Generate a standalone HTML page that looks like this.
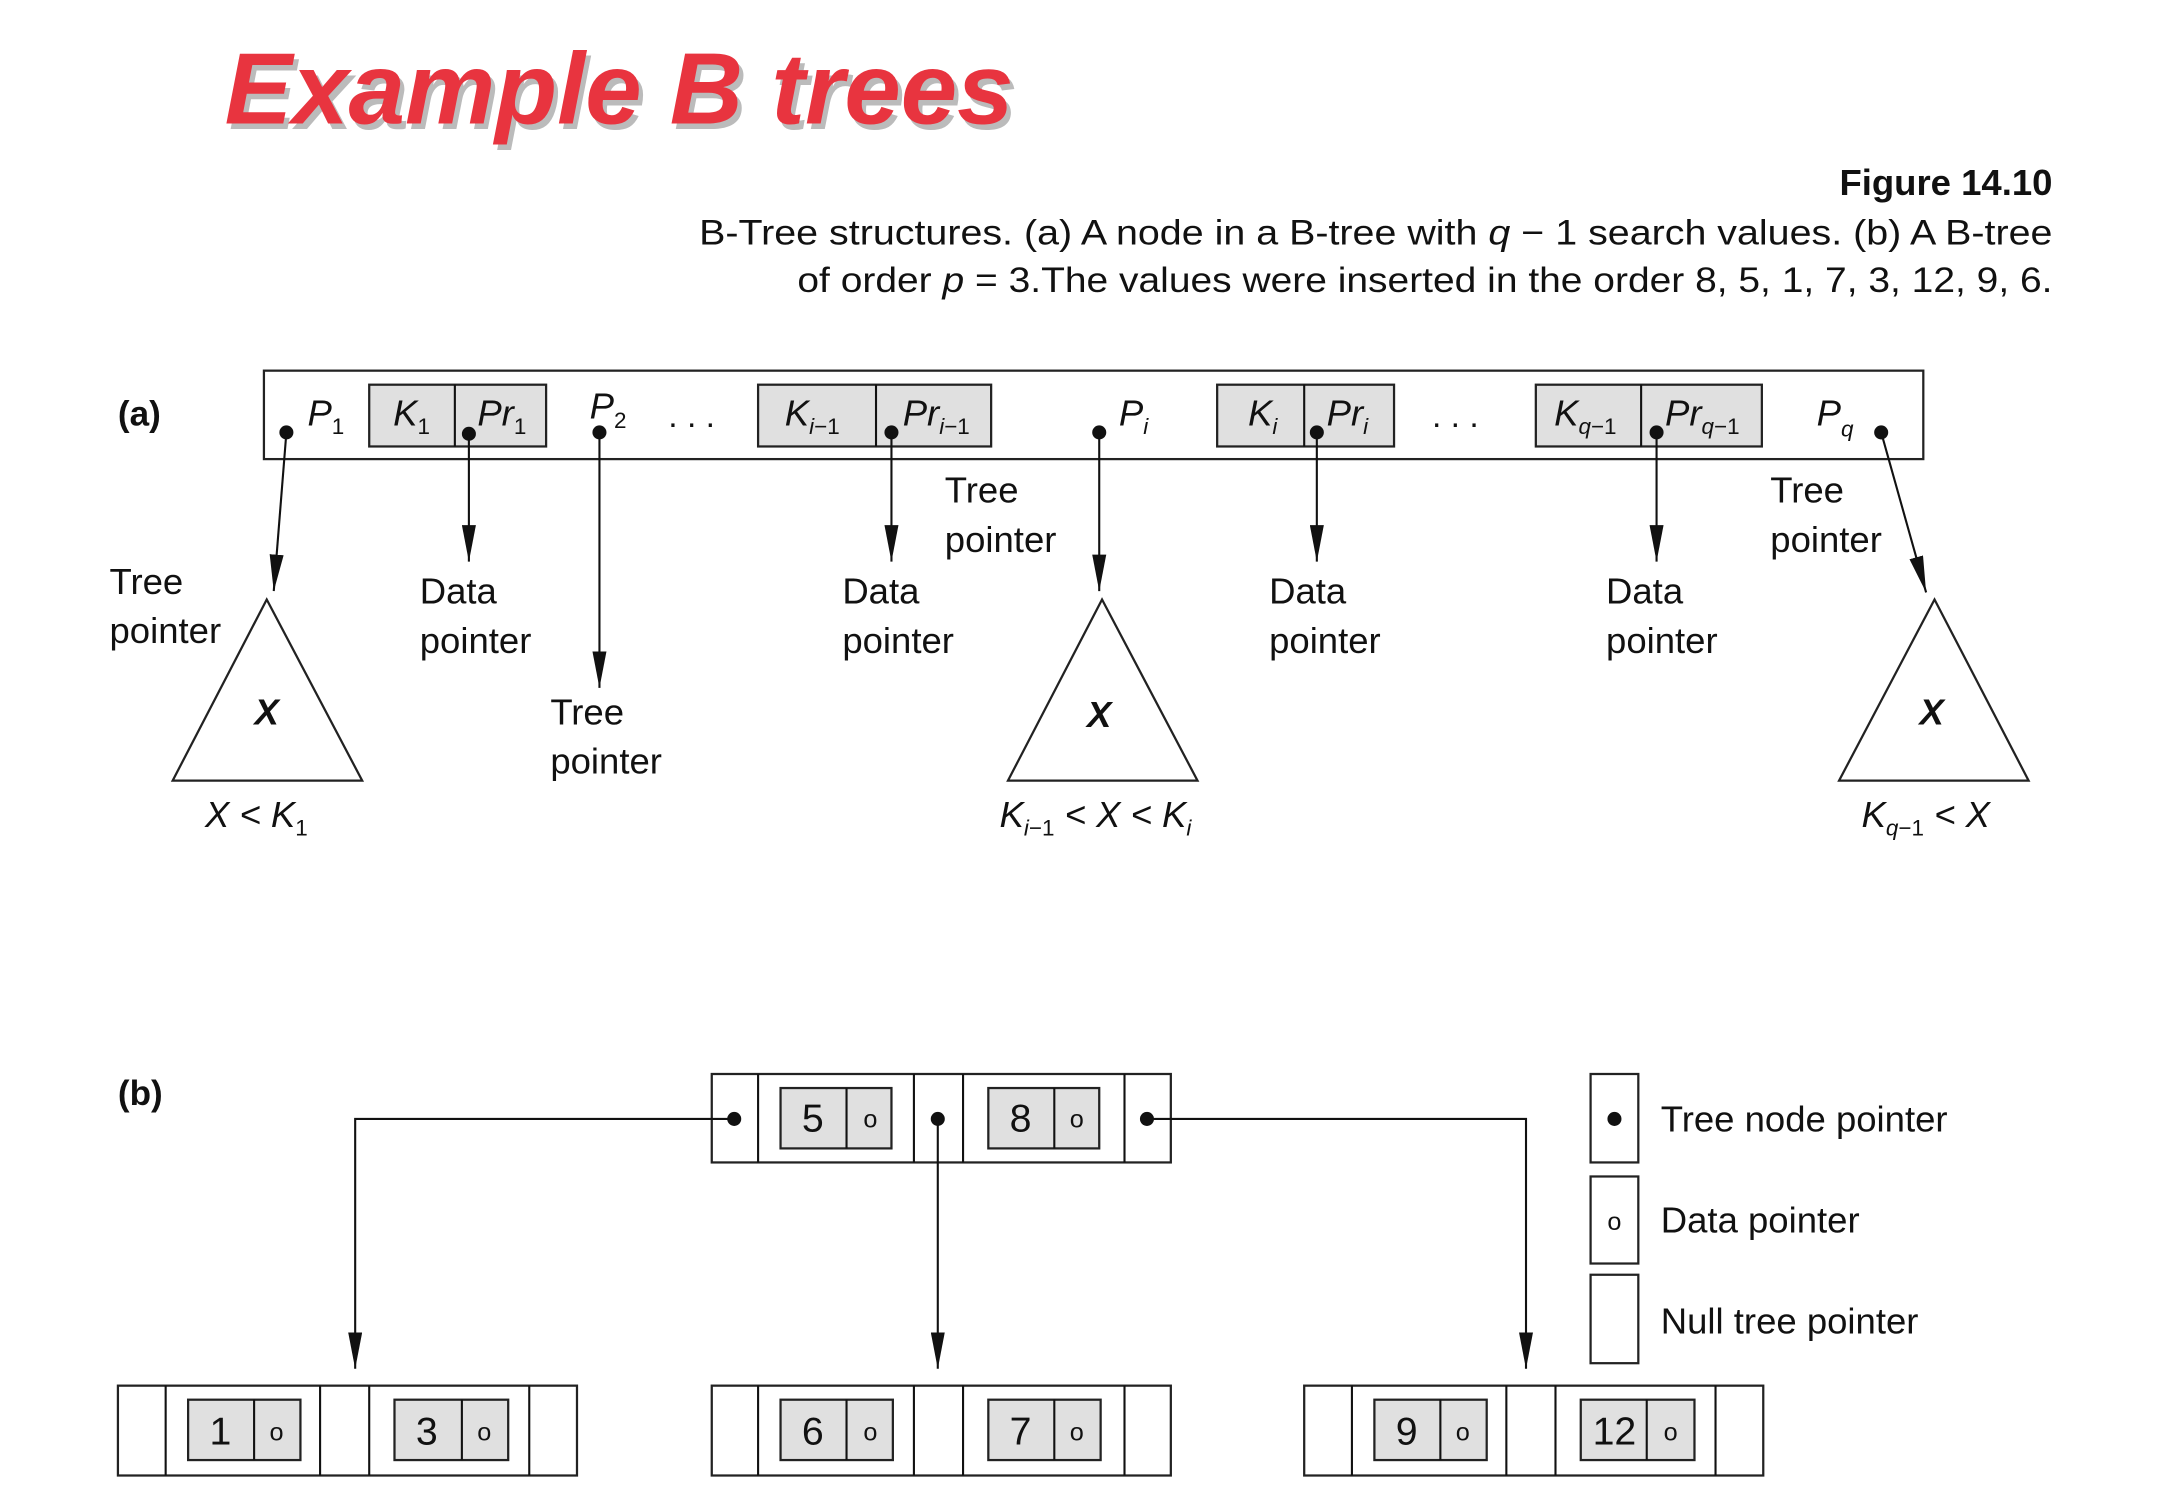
<!DOCTYPE html>
<html><head><meta charset="utf-8"><style>
html,body{margin:0;padding:0;background:#fff;}
svg{display:block;}
text{font-family:"Liberation Sans",sans-serif;fill:#111;}
.it{font-style:italic;}
</style></head><body>
<svg width="2176" height="1498" viewBox="0 0 1550 1067" xmlns="http://www.w3.org/2000/svg">
<defs>
<marker id="ah" markerWidth="26" markerHeight="10" refX="26" refY="5" orient="auto" markerUnits="userSpaceOnUse" viewBox="0 0 26 10">
<path d="M0,0 L26,5 L0,10 Z" fill="#111"/>
</marker>
</defs>
<style>
.ln{stroke:#111;stroke-width:1.5;fill:none;}
.bx{stroke:#222;stroke-width:1.6;fill:#fff;}
.gb{stroke:#222;stroke-width:1.6;fill:#e0e0e0;}
</style>
<!-- title -->
<text x="160" y="88" font-size="72" font-weight="bold" font-style="italic" style="fill:#bbb" textLength="562" lengthAdjust="spacingAndGlyphs" transform="translate(3,4)">Example B trees</text>
<text x="160" y="88" font-size="72" font-weight="bold" font-style="italic" style="fill:#e8343f" textLength="562" lengthAdjust="spacingAndGlyphs">Example B trees</text>
<text x="1462" y="139" font-size="26" font-weight="bold" text-anchor="end">Figure 14.10</text>
<text x="1462" y="174" font-size="25" text-anchor="end" textLength="964" lengthAdjust="spacingAndGlyphs">B-Tree structures. (a) A node in a B-tree with <tspan class="it">q</tspan> − 1 search values. (b) A B-tree</text>
<text x="1462" y="208" font-size="25" text-anchor="end" textLength="894" lengthAdjust="spacingAndGlyphs">of order <tspan class="it">p</tspan> = 3.The values were inserted in the order 8, 5, 1, 7, 3, 12, 9, 6.</text>

<!-- (a) -->
<text x="84" y="303" font-size="25" font-weight="bold">(a)</text>
<rect x="188" y="264" width="1182" height="63" class="bx"/>
<rect x="263" y="274" width="126" height="44" class="gb"/><line x1="324" y1="274" x2="324" y2="318" class="ln"/>
<rect x="540" y="274" width="166" height="44" class="gb"/><line x1="624" y1="274" x2="624" y2="318" class="ln"/>
<rect x="867" y="274" width="126" height="44" class="gb"/><line x1="929" y1="274" x2="929" y2="318" class="ln"/>
<rect x="1094" y="274" width="161" height="44" class="gb"/><line x1="1169" y1="274" x2="1169" y2="318" class="ln"/>
<g font-size="26" font-style="italic">
<text x="219" y="303">P<tspan font-size="16" dy="6" font-style="normal">1</tspan></text>
<text x="280" y="303">K<tspan font-size="16" dy="6" font-style="normal">1</tspan></text>
<text x="340" y="303">Pr<tspan font-size="16" dy="6" font-style="normal">1</tspan></text>
<text x="420" y="298">P<tspan font-size="16" dy="7" font-style="normal">2</tspan></text>
<text x="559" y="303">K<tspan font-size="16" dy="6">i</tspan><tspan font-size="16" font-style="normal">−1</tspan></text>
<text x="643" y="303">Pr<tspan font-size="16" dy="6">i</tspan><tspan font-size="16" font-style="normal">−1</tspan></text>
<text x="797" y="303">P<tspan font-size="16" dy="6">i</tspan></text>
<text x="889" y="303">K<tspan font-size="16" dy="6">i</tspan></text>
<text x="945" y="303">Pr<tspan font-size="16" dy="6">i</tspan></text>
<text x="1107" y="303">K<tspan font-size="16" dy="6">q</tspan><tspan font-size="16" font-style="normal">−1</tspan></text>
<text x="1186" y="303">Pr<tspan font-size="16" dy="6">q</tspan><tspan font-size="16" font-style="normal">−1</tspan></text>
<text x="1294" y="303">P<tspan font-size="16" dy="8">q</tspan></text>
</g>
<text x="476" y="304" font-size="24">. . .</text>
<text x="1020" y="304" font-size="24">. . .</text>
<g fill="#111">
<circle cx="204" cy="308" r="5"/><circle cx="334" cy="309" r="5"/><circle cx="427" cy="308" r="5"/>
<circle cx="635" cy="308" r="5"/><circle cx="783" cy="308" r="5"/><circle cx="938" cy="308" r="5"/>
<circle cx="1180" cy="308" r="5"/><circle cx="1340" cy="308" r="5"/>
</g>
<line x1="204" y1="308" x2="195" y2="421" class="ln" marker-end="url(#ah)"/>
<line x1="334" y1="309" x2="334" y2="400" class="ln" marker-end="url(#ah)"/>
<line x1="427" y1="308" x2="427" y2="490" class="ln" marker-end="url(#ah)"/>
<line x1="635" y1="308" x2="635" y2="400" class="ln" marker-end="url(#ah)"/>
<line x1="783" y1="308" x2="783" y2="421" class="ln" marker-end="url(#ah)"/>
<line x1="938" y1="308" x2="938" y2="400" class="ln" marker-end="url(#ah)"/>
<line x1="1180" y1="308" x2="1180" y2="400" class="ln" marker-end="url(#ah)"/>
<line x1="1340" y1="308" x2="1372" y2="422" class="ln" marker-end="url(#ah)"/>
<polygon points="190,427 123,556 258,556" class="bx"/>
<polygon points="785,427 718,556 853,556" class="bx"/>
<polygon points="1378,427 1310,556 1445,556" class="bx"/>
<g font-size="26" font-weight="bold" font-style="italic" text-anchor="middle">
<text x="190" y="516">X</text><text x="783" y="518">X</text><text x="1376" y="516">X</text>
</g>
<g font-size="26" font-style="italic">
<text x="146" y="589">X &lt; K<tspan font-size="16" dy="6" font-style="normal">1</tspan></text>
<text x="712" y="589">K<tspan font-size="16" dy="6">i</tspan><tspan font-size="16" font-style="normal">−1</tspan><tspan dy="-6"> &lt; X &lt; K</tspan><tspan font-size="16" dy="6">i</tspan></text>
<text x="1326" y="589">K<tspan font-size="16" dy="6">q</tspan><tspan font-size="16" font-style="normal">−1</tspan><tspan dy="-6"> &lt; X</tspan></text>
</g>
<g font-size="26">
<text x="78" y="423">Tree</text><text x="78" y="458">pointer</text>
<text x="299" y="430">Data</text><text x="299" y="465">pointer</text>
<text x="392" y="516">Tree</text><text x="392" y="551">pointer</text>
<text x="600" y="430">Data</text><text x="600" y="465">pointer</text>
<text x="673" y="358">Tree</text><text x="673" y="393">pointer</text>
<text x="904" y="430">Data</text><text x="904" y="465">pointer</text>
<text x="1144" y="430">Data</text><text x="1144" y="465">pointer</text>
<text x="1261" y="358">Tree</text><text x="1261" y="393">pointer</text>
</g>

<!-- (b) -->
<text x="84" y="787" font-size="25" font-weight="bold">(b)</text>
<rect x="507" y="765" width="327" height="63" class="bx"/>
<line x1="540" y1="765" x2="540" y2="828" class="ln"/><line x1="651" y1="765" x2="651" y2="828" class="ln"/>
<line x1="686" y1="765" x2="686" y2="828" class="ln"/><line x1="801" y1="765" x2="801" y2="828" class="ln"/>
<rect x="556" y="775" width="79" height="43" class="gb"/><line x1="603" y1="775" x2="603" y2="818" class="ln"/>
<rect x="704" y="775" width="79" height="43" class="gb"/><line x1="751" y1="775" x2="751" y2="818" class="ln"/>
<g font-size="28" text-anchor="middle">
<text x="579" y="806">5</text><text x="727" y="806">8</text>
</g>
<g font-size="18" text-anchor="middle"><text x="620" y="803">o</text><text x="767" y="803">o</text></g>
<g fill="#111"><circle cx="523" cy="797" r="5"/><circle cx="668" cy="797" r="5"/><circle cx="817" cy="797" r="5"/></g>
<polyline points="523,797 253,797 253,975" class="ln" marker-end="url(#ah)"/>
<line x1="668" y1="797" x2="668" y2="975" class="ln" marker-end="url(#ah)"/>
<polyline points="817,797 1087,797 1087,975" class="ln" marker-end="url(#ah)"/>

<!-- leaves -->
<rect x="84" y="987" width="327" height="64" class="bx"/>
<line x1="118" y1="987" x2="118" y2="1051" class="ln"/><line x1="228" y1="987" x2="228" y2="1051" class="ln"/>
<line x1="263" y1="987" x2="263" y2="1051" class="ln"/><line x1="377" y1="987" x2="377" y2="1051" class="ln"/>
<rect x="134" y="997" width="80" height="43" class="gb"/><line x1="181" y1="997" x2="181" y2="1040" class="ln"/>
<rect x="281" y="997" width="81" height="43" class="gb"/><line x1="329" y1="997" x2="329" y2="1040" class="ln"/>

<rect x="507" y="987" width="327" height="64" class="bx"/>
<line x1="540" y1="987" x2="540" y2="1051" class="ln"/><line x1="651" y1="987" x2="651" y2="1051" class="ln"/>
<line x1="686" y1="987" x2="686" y2="1051" class="ln"/><line x1="801" y1="987" x2="801" y2="1051" class="ln"/>
<rect x="556" y="997" width="80" height="43" class="gb"/><line x1="603" y1="997" x2="603" y2="1040" class="ln"/>
<rect x="704" y="997" width="80" height="43" class="gb"/><line x1="751" y1="997" x2="751" y2="1040" class="ln"/>

<rect x="929" y="987" width="327" height="64" class="bx"/>
<line x1="963" y1="987" x2="963" y2="1051" class="ln"/><line x1="1073" y1="987" x2="1073" y2="1051" class="ln"/>
<line x1="1108" y1="987" x2="1108" y2="1051" class="ln"/><line x1="1222" y1="987" x2="1222" y2="1051" class="ln"/>
<rect x="979" y="997" width="80" height="43" class="gb"/><line x1="1026" y1="997" x2="1026" y2="1040" class="ln"/>
<rect x="1126" y="997" width="81" height="43" class="gb"/><line x1="1173" y1="997" x2="1173" y2="1040" class="ln"/>
<g font-size="28" text-anchor="middle">
<text x="157" y="1029">1</text><text x="304" y="1029">3</text>
<text x="579" y="1029">6</text><text x="727" y="1029">7</text>
<text x="1002" y="1029">9</text><text x="1150" y="1029">12</text>
</g>
<g font-size="18" text-anchor="middle">
<text x="197" y="1026">o</text><text x="345" y="1026">o</text>
<text x="620" y="1026">o</text><text x="767" y="1026">o</text>
<text x="1042" y="1026">o</text><text x="1190" y="1026">o</text>
</g>

<!-- legend -->
<rect x="1133" y="765" width="34" height="63" class="bx"/>
<rect x="1133" y="838" width="34" height="62" class="bx"/>
<rect x="1133" y="908" width="34" height="63" class="bx"/>
<circle cx="1150" cy="797" r="5" fill="#111"/>
<text x="1150" y="876" font-size="18" text-anchor="middle">o</text>
<g font-size="26">
<text x="1183" y="806">Tree node pointer</text>
<text x="1183" y="878">Data pointer</text>
<text x="1183" y="950">Null tree pointer</text>
</g>
</svg>
</body></html>
